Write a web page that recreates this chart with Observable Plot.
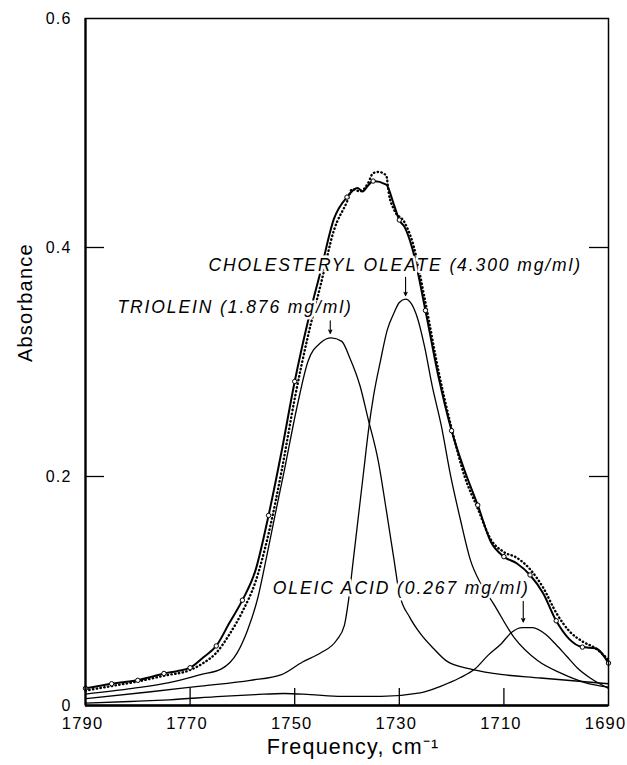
<!DOCTYPE html>
<html><head><meta charset="utf-8">
<script src="https://cdn.jsdelivr.net/npm/d3@7"></script>
<script src="https://cdn.jsdelivr.net/npm/@observablehq/plot@0.6"></script>
<style>
body{margin:0;background:#fff;}
</style></head><body><div id="chart"></div>
<script>
// Tick values
const xTicks = [1790, 1770, 1750, 1730, 1710, 1690];
const yTicks = [0, 0.2, 0.4, 0.6];

// Fitted sum (solid line with circles every 5 cm-1)
const totalFreq = [1790, 1787.5, 1785, 1782.5, 1780, 1777.5, 1775, 1772.5, 1770, 1767.5, 1765, 1762.5, 1760, 1757.5, 1755, 1752.5, 1750, 1747.5, 1745, 1742.5, 1740, 1738, 1737, 1736, 1735, 1732.5, 1731, 1730, 1729, 1727.5, 1725, 1722.5, 1720, 1717.5, 1715, 1712.5, 1710, 1707.5, 1705, 1702.5, 1700, 1697.5, 1695, 1692.5, 1690];
const totalAbs = [0.015, 0.017, 0.019, 0.0205, 0.022, 0.025, 0.028, 0.030, 0.033, 0.042, 0.052, 0.072, 0.092, 0.118, 0.166, 0.222, 0.283, 0.335, 0.380, 0.425, 0.444, 0.452, 0.449, 0.454, 0.458, 0.455, 0.437, 0.424, 0.418, 0.399, 0.345, 0.287, 0.240, 0.205, 0.175, 0.143, 0.130, 0.124, 0.114, 0.098, 0.074, 0.058, 0.051, 0.050, 0.037];

// Measured spectrum (dotted)
const measFreq = [1790, 1785, 1780, 1775, 1770, 1767.5, 1765, 1762.5, 1760, 1757.5, 1755, 1752.5, 1750, 1747.5, 1745, 1742.5, 1740, 1739, 1737.5, 1736, 1735, 1734, 1732.5, 1732, 1731, 1729, 1727.5, 1725, 1722.5, 1720, 1717.5, 1715, 1712.5, 1710, 1707.5, 1705, 1702.5, 1700, 1697.5, 1695, 1692.5, 1690];
const measAbs = [0.013, 0.017, 0.021, 0.026, 0.031, 0.037, 0.046, 0.062, 0.082, 0.108, 0.150, 0.205, 0.268, 0.322, 0.368, 0.415, 0.440, 0.451, 0.449, 0.456, 0.465, 0.466, 0.463, 0.447, 0.433, 0.422, 0.405, 0.352, 0.292, 0.242, 0.200, 0.172, 0.145, 0.134, 0.129, 0.119, 0.103, 0.081, 0.065, 0.056, 0.050, 0.040];

// Triolein component
const trioFreq = [1790, 1781, 1774, 1768, 1764, 1761, 1759, 1757, 1755.5, 1753.5, 1752, 1749.5, 1747.5, 1745, 1743, 1741, 1739.5, 1737.5, 1736, 1734, 1732.5, 1731, 1730, 1728, 1726, 1723.5, 1721, 1716.5, 1712, 1703, 1690];
const trioAbs = [0.010, 0.015, 0.020, 0.027, 0.032, 0.046, 0.066, 0.095, 0.127, 0.172, 0.205, 0.262, 0.300, 0.317, 0.321, 0.318, 0.304, 0.279, 0.251, 0.213, 0.171, 0.127, 0.098, 0.077, 0.063, 0.050, 0.039, 0.032, 0.028, 0.024, 0.019];

// Cholesteryl oleate component
const cholFreq = [1790, 1777.5, 1768, 1758.5, 1752.5, 1748.5, 1745, 1742, 1740.5, 1739.7, 1738.8, 1737.8, 1736.8, 1735.9, 1734.9, 1733.6, 1732.3, 1731, 1730, 1728.8, 1727.7, 1726.5, 1725.2, 1723.7, 1722, 1720.2, 1718.3, 1716.4, 1714.5, 1712, 1708, 1703.5, 1699, 1694.5, 1690];
const cholAbs = [0.006, 0.012, 0.017, 0.022, 0.027, 0.038, 0.046, 0.057, 0.070, 0.092, 0.127, 0.166, 0.205, 0.240, 0.271, 0.301, 0.328, 0.343, 0.352, 0.355, 0.351, 0.338, 0.314, 0.279, 0.245, 0.201, 0.162, 0.127, 0.107, 0.089, 0.059, 0.039, 0.028, 0.020, 0.016];

// Oleic acid component
const oleicFreq = [1790, 1781.5, 1774, 1764, 1757.5, 1752, 1747, 1741, 1733.5, 1726, 1722, 1718.5, 1715.5, 1713, 1710.5, 1708.5, 1706.5, 1704.5, 1702, 1700, 1698, 1696, 1693.5, 1690];
const oleicAbs = [0.002, 0.0035, 0.005, 0.008, 0.0095, 0.0105, 0.0095, 0.008, 0.008, 0.011, 0.017, 0.024, 0.032, 0.044, 0.054, 0.064, 0.068, 0.068, 0.062, 0.053, 0.043, 0.033, 0.024, 0.015];

// Annotations
const labelText = ["TRIOLEIN (1.876 mg/ml)", "CHOLESTERYL OLEATE (4.300 mg/ml)", "OLEIC ACID (0.267 mg/ml)"];
const labelFreq = [1783.9, 1766.5, 1754.2];
const labelAbs = [0.348, 0.384, 0.102];
const arrowFreq = [1743.2, 1728.8, 1706.3];
const arrowFrom = [0.336, 0.374, 0.091];
const arrowTo = [0.325, 0.358, 0.073];

const zip = (fs, as) => fs.map((f, i) => ({f, a: as[i]}));
const total = zip(totalFreq, totalAbs);
const meas = zip(measFreq, measAbs);
const trio = zip(trioFreq, trioAbs);
const chol = zip(cholFreq, cholAbs);
const oleic = zip(oleicFreq, oleicAbs);
const labels = labelText.map((t, i) => ({text: t, f: labelFreq[i], a: labelAbs[i]}));
const arrows = arrowFreq.map((f, i) => ({f, a1: arrowFrom[i], a2: arrowTo[i]}));

const W = 627, H = 765, mL = 85, mR = 19, mT = 18, mB = 60;
const innerW = W - mL - mR, innerH = H - mT - mB;
const comp = {x: "f", y: "a", curve: "monotone-x", stroke: "black", strokeWidth: 1.3};

const chart = Plot.plot({
  width: W, height: H,
  marginLeft: mL, marginRight: mR, marginTop: mT, marginBottom: mB,
  style: {fontFamily: "'Liberation Sans', Arial, sans-serif", fontSize: "16px", background: "white", color: "black", letterSpacing: "1.2px"},
  x: {domain: [1790, 1690]},
  y: {domain: [0, 0.6]},
  marks: [
    Plot.line(oleic, comp),
    Plot.line(trio, comp),
    Plot.line(chol, comp),
    Plot.line(meas, {x: "f", y: "a", curve: "monotone-x", stroke: "black", strokeWidth: 2.4, strokeDasharray: "0.4,3.4", strokeLinecap: "round"}),
    Plot.line(total, {x: "f", y: "a", curve: "monotone-x", stroke: "black", strokeWidth: 2}),
    Plot.dot(total.filter(d => d.f % 5 === 0), {x: "f", y: "a", r: 2.2, fill: "white", stroke: "black", strokeWidth: 1}),
    Plot.text(labels, {x: "f", y: "a", text: "text", textAnchor: "start", lineAnchor: "middle", fontStyle: "italic", fontSize: 17.5, fill: "black", stroke: "white", strokeWidth: 5}),
    Plot.arrow(arrows, {x1: "f", x2: "f", y1: "a1", y2: "a2", headLength: 5, headAngle: 50, strokeWidth: 1.1, stroke: "black"}),
    Plot.frame({strokeWidth: 1.5}),
    Plot.ruleX([xTicks[0]], {strokeWidth: 2.2}),
    Plot.ruleY([yTicks[0]], {strokeWidth: 2.5}),
    Plot.tickY(yTicks.slice(1, -1), {y: d => d, insetRight: innerW - 19, strokeWidth: 1.3}),
    Plot.tickY(yTicks.slice(1, -1), {y: d => d, insetLeft: innerW - 19, strokeWidth: 1.3}),
    Plot.tickX(xTicks.slice(1, -1), {x: d => d, insetTop: innerH - 17, strokeWidth: 1.3}),
    Plot.axisX(xTicks, {tickSize: 0, tickPadding: 12, tickFormat: d => String(d), label: null, fontSize: 16.5, dx: -3}),
    Plot.axisY(yTicks, {tickSize: 0, tickPadding: 14, tickFormat: d => d === 0 ? "0" : d.toFixed(1), label: null, fontSize: 16}),
    Plot.text(["Frequency, cm⁻¹"], {text: d => d, frameAnchor: "bottom", dy: 48, dx: 6, fontSize: 21.5}),
    Plot.text(["Absorbance"], {text: d => d, frameAnchor: "left", dx: -60, rotate: -90, fontSize: 20})
  ]
});
// wider letter spacing for the italic annotations (first text mark)
const annot = chart.querySelector('g[aria-label="text"]');
if (annot) annot.style.letterSpacing = "1.9px";
document.getElementById("chart").appendChild(chart);
</script>
</body></html>
